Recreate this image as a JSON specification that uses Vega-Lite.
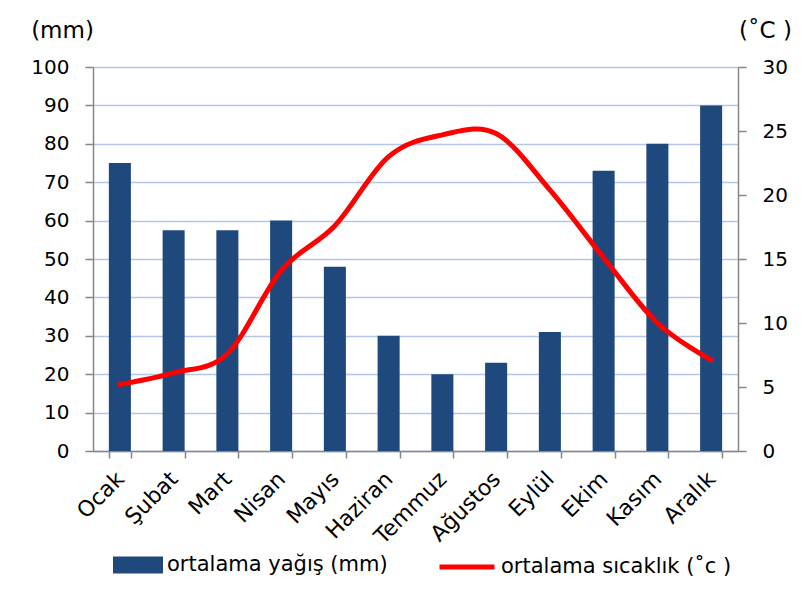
{
  "$schema": "https://vega.github.io/schema/vega-lite/v6.json",
  "width": 645,
  "height": 384,
  "autosize": {"type": "none"},
  "padding": {"left": 93, "top": 67, "right": 71, "bottom": 153},
  "background": "white",
  "config": {
    "font": "DejaVu Sans",
    "view": {"stroke": null},
    "axis": {
      "labelFont": "DejaVu Sans",
      "labelFontSize": 20,
      "labelColor": "black",
      "titleFont": "DejaVu Sans",
      "titleFontSize": 23,
      "titleFontWeight": "normal",
      "titleColor": "black",
      "domainColor": "#868686",
      "domainWidth": 1.5,
      "tickColor": "#868686",
      "tickWidth": 1.5,
      "tickSize": 8
    },
    "legend": {
      "labelFont": "DejaVu Sans",
      "labelFontSize": 21,
      "labelColor": "black",
      "labelLimit": 0,
      "padding": 0
    }
  },
  "data": {
    "values": [
      {"ay": "Ocak", "yagis": 75, "sicaklik": 5.2},
      {"ay": "Şubat", "yagis": 57.5, "sicaklik": 6.1},
      {"ay": "Mart", "yagis": 57.5, "sicaklik": 7.6},
      {"ay": "Nisan", "yagis": 60, "sicaklik": 14.1},
      {"ay": "Mayıs", "yagis": 48, "sicaklik": 17.6},
      {"ay": "Haziran", "yagis": 30, "sicaklik": 23},
      {"ay": "Temmuz", "yagis": 20, "sicaklik": 24.7},
      {"ay": "Ağustos", "yagis": 23, "sicaklik": 24.8},
      {"ay": "Eylül", "yagis": 31, "sicaklik": 20.4},
      {"ay": "Ekim", "yagis": 73, "sicaklik": 15.1},
      {"ay": "Kasım", "yagis": 80, "sicaklik": 10},
      {"ay": "Aralık", "yagis": 90, "sicaklik": 7.1}
    ]
  },
  "encoding": {
    "x": {
      "field": "ay",
      "type": "nominal",
      "sort": null,
      "scale": {"paddingInner": 0.59, "paddingOuter": 0.295},
      "axis": {
        "title": null,
        "labelAngle": -45,
        "labelFontSize": 22,
        "tickBand": "extent",
        "tickSize": 7,
        "labelPadding": 10,
        "labelOffset": -7,
        "grid": false
      }
    }
  },
  "layer": [
    {
      "mark": {"type": "bar"},
      "encoding": {
        "y": {
          "field": "yagis",
          "type": "quantitative",
          "scale": {"domain": [0, 100], "nice": false},
          "axis": {
            "title": "(mm)",
            "values": [0, 10, 20, 30, 40, 50, 60, 70, 80, 90, 100],
            "grid": true,
            "gridColor": "#B4C8E6",
            "gridWidth": 1.5,
            "labelPadding": 16,
            "titleAngle": 0,
            "titleX": -31,
            "titleY": -37,
            "titleAlign": "center",
            "titleBaseline": "middle"
          }
        },
        "fill": {
          "datum": "ortalama yağış (mm)",
          "type": "nominal",
          "scale": {"range": ["#1F497D"]},
          "legend": {
            "title": null,
            "orient": "none",
            "legendX": 20,
            "legendY": 473,
            "symbolType": "M-1,-0.34H1V0.34H-1Z",
            "symbolSize": 2500,
            "symbolStrokeWidth": 0,
            "labelOffset": 4
          }
        }
      }
    },
    {
      "mark": {"type": "line", "interpolate": "cardinal", "strokeWidth": 5, "strokeCap": "round"},
      "encoding": {
        "y": {
          "field": "sicaklik",
          "type": "quantitative",
          "scale": {"domain": [0, 30], "nice": false},
          "axis": {
            "orient": "right",
            "title": "(˚C )",
            "values": [0, 5, 10, 15, 20, 25, 30],
            "grid": false,
            "labelPadding": 16,
            "titleAngle": 0,
            "titleX": 27,
            "titleY": -37,
            "titleAlign": "center",
            "titleBaseline": "middle"
          }
        },
        "stroke": {
          "datum": "ortalama sıcaklık (˚c )",
          "type": "nominal",
          "scale": {"range": ["#FF0000"]},
          "legend": {
            "title": null,
            "orient": "none",
            "legendX": 344,
            "legendY": 470,
            "symbolType": "stroke",
            "symbolSize": 3025,
            "symbolStrokeWidth": 5,
            "labelOffset": 4
          }
        }
      }
    }
  ],
  "resolve": {"scale": {"y": "independent"}}
}
